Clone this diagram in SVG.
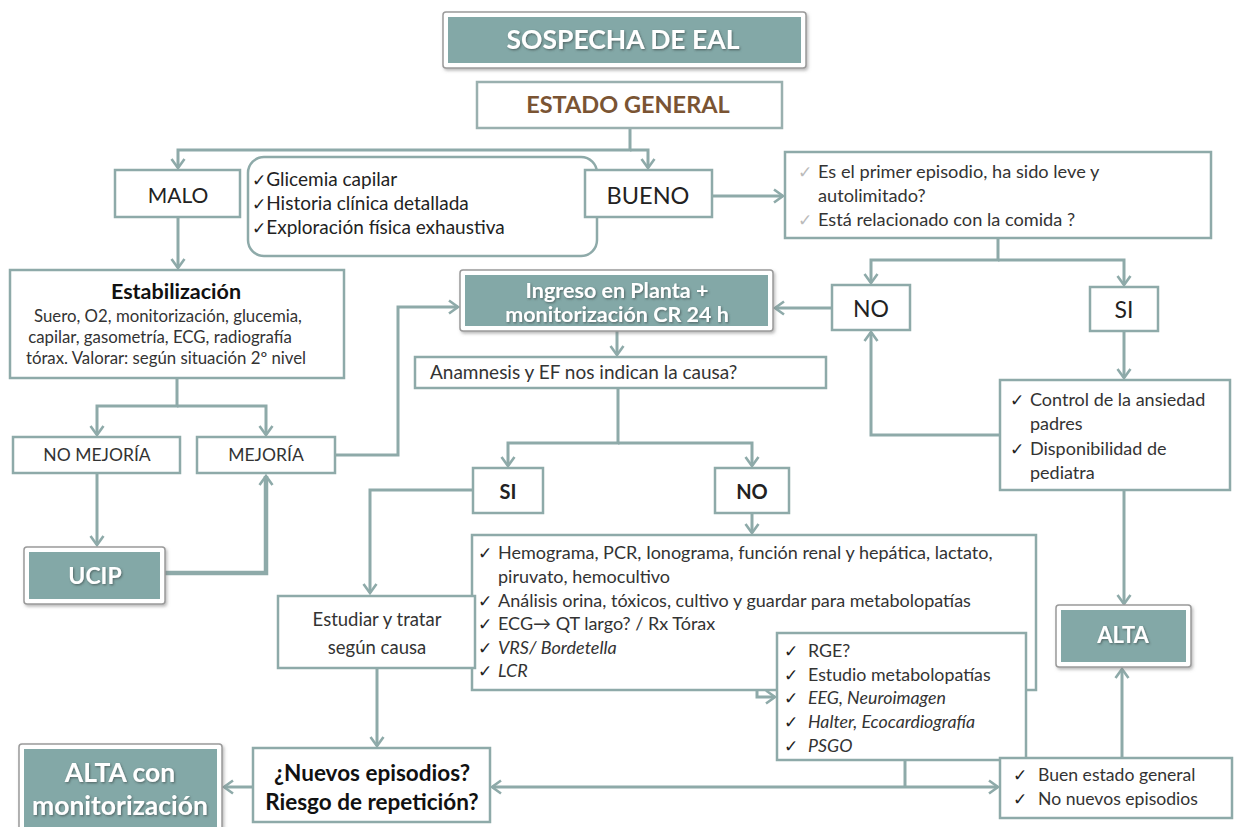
<svg xmlns="http://www.w3.org/2000/svg" width="1234" height="827" viewBox="0 0 1234 827">
<style>
.box{fill:#ffffff;stroke:#8eaaa9;stroke-width:2.5}
.outer{fill:#ffffff;stroke:#9a9a9a;stroke-width:1.5}
.teal{fill:#83a8a7}
.t{font-family:Lato,"Liberation Sans",sans-serif;fill:#222222}
.w{font-family:Lato,"Liberation Sans",sans-serif;fill:#ffffff;font-weight:bold}
.b{font-weight:bold}
.i{font-style:italic}
.ck{font-family:"DejaVu Sans",sans-serif;font-size:17px;font-weight:bold;fill:#222}
.conn path{fill:none;stroke:#8eaaa9;stroke-width:3}
</style>
<defs>
<marker id="ah" markerUnits="userSpaceOnUse" markerWidth="16" markerHeight="16" refX="11" refY="8" orient="auto-start-reverse">
<path d="M2,1.5 L11,8 L2,14.5" fill="none" stroke="#8eaaa9" stroke-width="2.6"/>
</marker>
<filter id="sh" x="-10%" y="-10%" width="120%" height="130%">
<feDropShadow dx="1.5" dy="2" stdDeviation="1.5" flood-color="#777" flood-opacity="0.5"/>
</filter>
<filter id="ts" x="-5%" y="-20%" width="110%" height="140%">
<feDropShadow dx="1" dy="1.2" stdDeviation="0.8" flood-color="#3a4a4a" flood-opacity="0.7"/>
</filter>
</defs>
<rect width="1234" height="827" fill="#ffffff"/>

<g class="conn">
<path d="M630,128 V150 H178 V168" marker-end="url(#ah)"/>
<path d="M630,150 H648 V168" marker-end="url(#ah)"/>
<path d="M178,217 V268" marker-end="url(#ah)"/>
<path d="M712,196 H783" marker-end="url(#ah)"/>
<path d="M998,238 V260 H871 V283" marker-end="url(#ah)"/>
<path d="M998,260 H1124 V285" marker-end="url(#ah)"/>
<path d="M832,308 H775" marker-end="url(#ah)"/>
<path d="M1124,331 V378" marker-end="url(#ah)"/>
<path d="M1124,490 V604" marker-end="url(#ah)"/>
<path d="M1000,435 H871 V332" marker-end="url(#ah)"/>
<path d="M177,378 V406 H97 V435" marker-end="url(#ah)"/>
<path d="M177,406 H266 V435" marker-end="url(#ah)"/>
<path d="M335,455 H398 V307 H458" marker-end="url(#ah)"/>
<path d="M97,473 V545" marker-end="url(#ah)"/>
<path d="M165,573 H266 V476" marker-end="url(#ah)" style="stroke-width:4.5"/>
<path d="M617,330 V355" marker-end="url(#ah)"/>
<path d="M618,388 V443 H508 V466" marker-end="url(#ah)"/>
<path d="M618,443 H752 V466" marker-end="url(#ah)"/>
<path d="M473,490 H370 V593" marker-end="url(#ah)"/>
<path d="M752,513 V533" marker-end="url(#ah)"/>
<path d="M377,668 V746" marker-end="url(#ah)"/>
<path d="M253,787 H224" marker-end="url(#ah)"/>
<path d="M492,787 H998" marker-start="url(#ah)" marker-end="url(#ah)"/>
<path d="M905,760 V787"/>
<path d="M757,690 V697 H775" marker-end="url(#ah)"/>
<path d="M1122,757 V669" marker-end="url(#ah)"/>
</g>

<g id="sospecha">
<rect class="outer" x="443" y="12" width="363" height="56" rx="3" filter="url(#sh)"/>
<rect class="teal" x="448" y="17" width="353" height="46"/>
<text class="w" x="623" y="49" font-size="26.5" text-anchor="middle" filter="url(#ts)">SOSPECHA DE EAL</text>
</g>

<g id="estado">
<rect class="box" x="477" y="82" width="305" height="46" style="stroke:#9ab0af"/>
<text class="t b" x="628" y="113" font-size="23.5" text-anchor="middle" style="fill:#7a5433">ESTADO GENERAL</text>
</g>

<g id="malo">
<rect class="box" x="115" y="170" width="125" height="47"/>
<text class="t" x="178" y="203" font-size="21" text-anchor="middle">MALO</text>
</g>

<g id="checklist">
<rect class="box" x="248" y="157" width="349" height="99" rx="16"/>
<text class="t" font-size="19"><tspan x="252" y="186"><tspan class="ck" style="font-weight:normal">✓</tspan>Glicemia capilar</tspan><tspan x="252" y="210"><tspan class="ck" style="font-weight:normal">✓</tspan>Historia clínica detallada</tspan><tspan x="252" y="234"><tspan class="ck" style="font-weight:normal">✓</tspan>Exploración física exhaustiva</tspan></text>
</g>

<g id="bueno">
<rect class="box" x="585" y="170" width="127" height="47"/>
<text class="t" x="648" y="204" font-size="23.5" text-anchor="middle">BUENO</text>
</g>

<g id="pregunta">
<rect class="box" x="785" y="152" width="426" height="86"/>
<text class="t" font-size="18.2" style="fill:#333"><tspan x="798" y="178" class="ck" style="fill:#bbb;font-weight:normal">✓</tspan><tspan x="818" y="178">Es el primer episodio, ha sido leve y</tspan><tspan x="818" y="202">autolimitado?</tspan><tspan x="798" y="226" class="ck" style="fill:#bbb;font-weight:normal">✓</tspan><tspan x="818" y="226">Está relacionado con la comida ?</tspan></text>
</g>

<g id="no-right">
<rect class="box" x="832" y="285" width="78" height="45"/>
<text class="t" x="871" y="317" font-size="23" text-anchor="middle">NO</text>
</g>

<g id="si-right">
<rect class="box" x="1090" y="287" width="68" height="44"/>
<text class="t" x="1124" y="318" font-size="23" text-anchor="middle">SI</text>
</g>

<g id="ingreso">
<rect class="outer" x="460" y="270" width="313" height="61" rx="3" filter="url(#sh)"/>
<rect class="teal" x="465" y="275" width="303" height="51"/>
<text class="w" font-size="21.5" text-anchor="middle" filter="url(#ts)"><tspan x="617" y="298">Ingreso en Planta +</tspan><tspan x="617" y="322">monitorización CR 24 h</tspan></text>
</g>

<g id="estabilizacion">
<rect class="box" x="10" y="270" width="334" height="108"/>
<text class="t b" x="176" y="299" font-size="21.5" text-anchor="middle" style="fill:#111">Estabilización</text>
<text class="t" font-size="16.8" text-anchor="middle" style="fill:#333"><tspan x="168" y="322">Suero, O2, monitorización, glucemia,</tspan><tspan x="160" y="343">capilar, gasometría, ECG, radiografía</tspan><tspan x="166" y="364">tórax. Valorar: según situación 2º nivel</tspan></text>
</g>

<g id="no-mejoria">
<rect class="box" x="13" y="437" width="167" height="36"/>
<text class="t" x="97" y="461" font-size="17.5" text-anchor="middle" style="fill:#333">NO MEJORÍA</text>
</g>

<g id="mejoria">
<rect class="box" x="197" y="437" width="138" height="36"/>
<text class="t" x="266" y="461" font-size="17.5" text-anchor="middle" style="fill:#333">MEJORÍA</text>
</g>

<g id="ucip">
<rect class="outer" x="24" y="547" width="141" height="57" rx="3" filter="url(#sh)"/>
<rect class="teal" x="29" y="552" width="131" height="47"/>
<text class="w" x="95" y="584" font-size="23" text-anchor="middle" filter="url(#ts)">UCIP</text>
</g>

<g id="anamnesis">
<rect class="box" x="415" y="357" width="411" height="31"/>
<text class="t" x="430" y="379" font-size="19" style="fill:#333">Anamnesis y EF nos indican la causa?</text>
</g>

<g id="si-mid">
<rect class="box" x="473" y="468" width="70" height="45"/>
<text class="t b" x="508" y="499" font-size="20" text-anchor="middle">SI</text>
</g>

<g id="no-mid">
<rect class="box" x="715" y="468" width="74" height="45"/>
<text class="t b" x="752" y="499" font-size="20" text-anchor="middle">NO</text>
</g>

<g id="pruebas">
<rect class="box" x="472" y="535" width="564" height="155"/>
<text class="t" font-size="18" style="fill:#333">
<tspan x="478" y="559" class="ck">✓</tspan><tspan x="498" y="559">Hemograma, PCR, Ionograma, función renal y hepática, lactato,</tspan>
<tspan x="498" y="583">piruvato, hemocultivo</tspan>
<tspan x="478" y="607" class="ck">✓</tspan><tspan x="498" y="607">Análisis orina, tóxicos, cultivo y guardar para metabolopatías</tspan>
<tspan x="478" y="630" class="ck">✓</tspan><tspan x="498" y="630">ECG→ QT largo? / Rx Tórax</tspan>
<tspan x="478" y="654" class="ck">✓</tspan><tspan x="498" y="654" class="i">VRS/ Bordetella</tspan>
<tspan x="478" y="677" class="ck">✓</tspan><tspan x="498" y="677" class="i">LCR</tspan>
</text>
</g>

<g id="estudios">
<rect class="box" x="777" y="633" width="249" height="127"/>
<text class="t" font-size="17.8" style="fill:#333">
<tspan x="784" y="657" class="ck">✓</tspan><tspan x="808" y="657">RGE?</tspan>
<tspan x="784" y="681" class="ck">✓</tspan><tspan x="808" y="681">Estudio metabolopatías</tspan>
<tspan x="784" y="704" class="ck">✓</tspan><tspan x="808" y="704" class="i">EEG, Neuroimagen</tspan>
<tspan x="784" y="728" class="ck">✓</tspan><tspan x="808" y="728" class="i">Halter, Ecocardiografía</tspan>
<tspan x="784" y="752" class="ck">✓</tspan><tspan x="808" y="752" class="i">PSGO</tspan>
</text>
</g>

<g id="estudiar">
<rect class="box" x="278" y="596" width="197" height="72"/>
<text class="t" font-size="18.5" text-anchor="middle" style="fill:#333"><tspan x="377" y="626">Estudiar y tratar</tspan><tspan x="377" y="654">según causa</tspan></text>
</g>

<g id="nuevos">
<rect class="box" x="253" y="748" width="237" height="74"/>
<text class="t b" font-size="22.5" text-anchor="middle" style="fill:#111"><tspan x="372" y="781">¿Nuevos episodios?</tspan><tspan x="372" y="810">Riesgo de repetición?</tspan></text>
</g>

<g id="alta-monitorizacion">
<rect class="outer" x="19" y="744" width="203" height="90" rx="3" filter="url(#sh)"/>
<rect class="teal" x="24" y="749" width="193" height="85"/>
<text class="w" font-size="26.5" text-anchor="middle" filter="url(#ts)"><tspan x="120" y="782">ALTA con</tspan><tspan x="120" y="815">monitorización</tspan></text>
</g>

<g id="control">
<rect class="box" x="1000" y="380" width="230" height="110"/>
<text class="t" font-size="18" style="fill:#333">
<tspan x="1010" y="406" class="ck">✓</tspan><tspan x="1030" y="406">Control de la ansiedad</tspan>
<tspan x="1030" y="430">padres</tspan>
<tspan x="1010" y="455" class="ck">✓</tspan><tspan x="1030" y="455">Disponibilidad de</tspan>
<tspan x="1030" y="479">pediatra</tspan>
</text>
</g>

<g id="alta">
<rect class="outer" x="1056" y="605" width="135" height="62" rx="3" filter="url(#sh)"/>
<rect class="teal" x="1061" y="610" width="125" height="52"/>
<text class="w" x="1123" y="643" font-size="22" text-anchor="middle" filter="url(#ts)">ALTA</text>
</g>

<g id="buen-estado">
<rect class="box" x="1000" y="758" width="232" height="60"/>
<text class="t" font-size="17.6" style="fill:#333">
<tspan x="1013" y="781" class="ck">✓</tspan><tspan x="1038" y="781">Buen estado general</tspan>
<tspan x="1013" y="805" class="ck">✓</tspan><tspan x="1038" y="805">No nuevos episodios</tspan>
</text>
</g>
</svg>
